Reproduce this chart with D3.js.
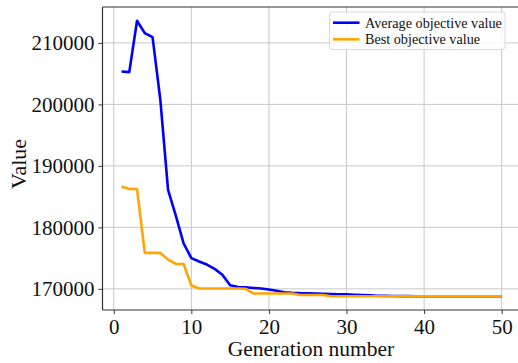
<!DOCTYPE html>
<html>
<head>
<meta charset="utf-8">
<script src="https://cdn.jsdelivr.net/npm/d3@7"></script>
<style>
  html, body { margin: 0; padding: 0; background: #fff; }
  svg { display: block; }
  text { font-family: "Liberation Serif", "Times New Roman", serif; fill: #111; }
</style>
</head>
<body>
<svg id="chart" width="518" height="363"></svg>
<script>
const generations = d3.range(1, 51);
const averageValues = [
  205350, 205250, 213600, 211600, 210950, 200800, 186100, 181900, 177400, 175000,
  174450, 173950, 173250, 172300, 170600, 170300, 170250, 170150, 170050, 169900,
  169700, 169450, 169350, 169300, 169280, 169250, 169200, 169150, 169100, 169100,
  169050, 169000, 168950, 168880, 168850, 168830, 168820, 168810, 168800, 168800,
  168800, 168800, 168800, 168800, 168800, 168800, 168800, 168800, 168800, 168800
];
const bestValues = [
  186650, 186250, 186250, 175850, 175850, 175850, 174750, 174050, 174050, 170550,
  170050, 170050, 170050, 170050, 170050, 170050, 170000, 169250, 169250, 169250,
  169250, 169250, 169250, 169000, 169000, 169000, 169000, 168800, 168800, 168800,
  168800, 168800, 168800, 168800, 168800, 168800, 168800, 168800, 168800, 168800,
  168800, 168800, 168800, 168800, 168800, 168800, 168800, 168800, 168800, 168800
];
const xTicks = [0, 10, 20, 30, 40, 50];
const yTicks = [170000, 180000, 190000, 200000, 210000];
const seriesNames = ["Average objective value", "Best objective value"];
const seriesColors = ["#0000ff", "#ffa500"];

const svg = d3.select("#chart");
const L = 102.5, R = 520.7, T = 7, B = 310;

const allVals = averageValues.concat(bestValues);
const yMin = d3.min(allVals), yMax = d3.max(allVals);
const yPad = (yMax - yMin) * 0.05;
const x = d3.scaleLinear().domain([1 - 49 * 0.05, 50 + 49 * 0.05]).range([L, R]);
const y = d3.scaleLinear().domain([yMin - yPad, yMax + yPad]).range([B, T]);

// grid
const grid = svg.append("g");
grid.selectAll(".gx").data(xTicks).join("line")
  .attr("x1", d => x(d)).attr("x2", d => x(d)).attr("y1", T).attr("y2", B)
  .attr("stroke", "#c8c8c8").attr("stroke-width", 1);
grid.selectAll(".gy").data(yTicks).join("line")
  .attr("x1", L).attr("x2", R).attr("y1", d => y(d)).attr("y2", d => y(d))
  .attr("stroke", "#c8c8c8").attr("stroke-width", 1);

// lines
const series = [averageValues, bestValues];
const line = d3.line().x((d, i) => x(generations[i])).y(d => y(d));
series.forEach((s, k) => {
  svg.append("path").datum(s)
    .attr("fill", "none").attr("stroke", seriesColors[k])
    .attr("stroke-width", 2.6).attr("stroke-linejoin", "round")
    .attr("d", line);
});

// axes
const xAxis = d3.axisBottom(x).tickValues(xTicks).tickSize(4).tickPadding(4);
const yAxis = d3.axisLeft(y).tickValues(yTicks).tickSize(4).tickPadding(4).tickFormat(d3.format("d"));
const gx = svg.append("g").attr("transform", `translate(0,${B})`).call(xAxis);
const gy = svg.append("g").attr("transform", `translate(${L},0)`).call(yAxis);
[gx, gy].forEach(g => {
  g.select(".domain").remove();
  g.selectAll(".tick line").attr("stroke", "#333");
  g.selectAll(".tick text").style("font-size", "21px").style("font-family", "Liberation Serif, serif").attr("fill", "#111");
});
gx.selectAll(".tick text").attr("dy", "0.78em");

// spines
svg.append("line").attr("x1", L).attr("x2", L).attr("y1", T).attr("y2", B).attr("stroke", "#333").attr("stroke-width", 1.2);
svg.append("line").attr("x1", L).attr("x2", R).attr("y1", B).attr("y2", B).attr("stroke", "#333").attr("stroke-width", 1.2);
svg.append("line").attr("x1", L).attr("x2", R).attr("y1", T).attr("y2", T).attr("stroke", "#333").attr("stroke-width", 1.2);

// axis labels
svg.append("text").attr("x", 311).attr("y", 356).attr("text-anchor", "middle")
  .style("font-size", "21.5px").text("Generation number");
svg.append("text").attr("transform", "translate(26,164) rotate(-90)").attr("text-anchor", "middle")
  .style("font-size", "22px").text("Value");

// legend
const lg = svg.append("g");
lg.append("rect").attr("x", 329.5).attr("y", 12).attr("width", 175.5).attr("height", 37.5)
  .attr("rx", 3).attr("fill", "rgba(255,255,255,0.85)").attr("stroke", "#d8d8d8");
seriesNames.forEach((n, i) => {
  const yy = 22.7 + i * 16.6;
  lg.append("line").attr("x1", 333).attr("x2", 359.5).attr("y1", yy).attr("y2", yy)
    .attr("stroke", seriesColors[i]).attr("stroke-width", 2.6);
  lg.append("text").attr("x", 365).attr("y", yy + 4.8).style("font-size", "14.2px").text(n);
});
</script>
</body>
</html>
